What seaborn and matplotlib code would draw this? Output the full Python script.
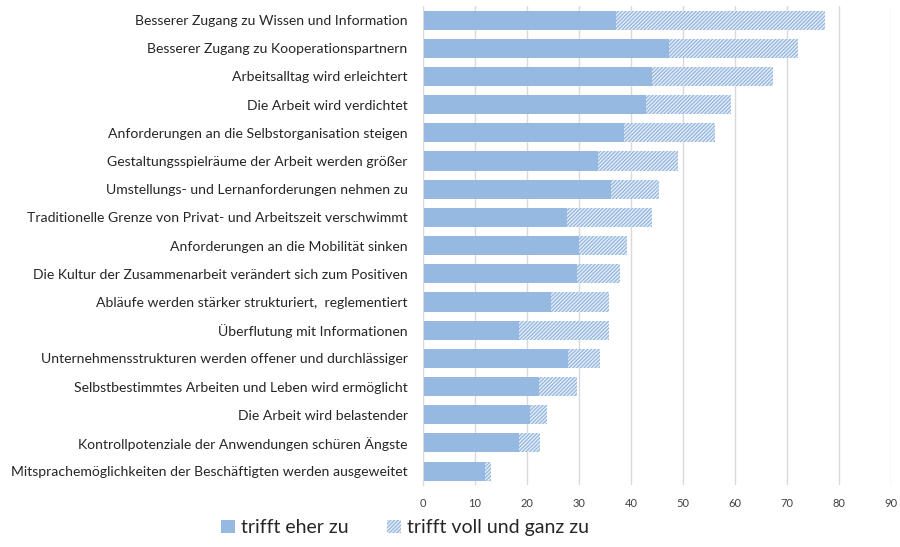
import matplotlib.pyplot as plt
import seaborn as sns
import pandas as pd
from matplotlib.patches import Patch

# Werte (Prozent)
labels = [
    "Besserer Zugang zu Wissen und Information",
    "Besserer Zugang zu Kooperationspartnern",
    "Arbeitsalltag wird erleichtert",
    "Die Arbeit wird verdichtet",
    "Anforderungen an die Selbstorganisation steigen",
    "Gestaltungsspielräume der Arbeit werden größer",
    "Umstellungs- und Lernanforderungen nehmen zu",
    "Traditionelle Grenze von Privat- und Arbeitszeit verschwimmt",
    "Anforderungen an die Mobilität sinken",
    "Die Kultur der Zusammenarbeit verändert sich zum Positiven",
    "Abläufe werden stärker strukturiert,  reglementiert",
    "Überflutung mit Informationen",
    "Unternehmensstrukturen werden offener und durchlässiger",
    "Selbstbestimmtes Arbeiten und Leben wird ermöglicht",
    "Die Arbeit wird belastender",
    "Kontrollpotenziale der Anwendungen schüren Ängste",
    "Mitsprachemöglichkeiten der Beschäftigten werden ausgeweitet",
]
eher_zu = [37.1, 47.4, 44.0, 42.9, 38.7, 33.7, 36.2, 27.6, 30.0, 29.6,
           24.6, 18.5, 27.8, 22.4, 20.6, 18.5, 11.9]
voll_zu = [40.2, 24.8, 23.4, 16.3, 17.5, 15.4, 9.2, 16.4, 9.2, 8.2,
           11.2, 17.3, 6.2, 7.2, 3.2, 4.0, 1.2]

df = pd.DataFrame({"label": labels, "eher": eher_zu, "voll": voll_zu})
df["gesamt"] = df["eher"] + df["voll"]

SOLID = "#95b9e1"
HATCH_BG = "#e2ecf7"
HATCH_LINE = "#8eb2dc"

sns.set_style("white")
plt.rcParams["font.family"] = ["Lato", "DejaVu Sans"]
plt.rcParams["hatch.linewidth"] = 0.8

fig = plt.figure(figsize=(9, 5.47), dpi=100)
ax = fig.add_axes([0.47, 0.113, 0.52, 0.876])

# Gesamtbalken (schraffiert) zuerst, dann der volle Anteil darüber
sns.barplot(data=df, x="gesamt", y="label", orient="h", color=HATCH_BG,
            width=0.68, ax=ax, saturation=1)
for p in ax.patches:
    p.set_facecolor(HATCH_BG)
    p.set_edgecolor(HATCH_LINE)
    p.set_hatch("/////////")
    p.set_linewidth(0)
n_hatched = len(ax.patches)
sns.barplot(data=df, x="eher", y="label", orient="h", color=SOLID,
            width=0.68, ax=ax, saturation=1)
for p in ax.patches[n_hatched:]:
    p.set_facecolor(SOLID)
    p.set_edgecolor(SOLID)
    p.set_linewidth(0)

ax.set_xlim(0, 90)
ax.set_xticks(range(0, 91, 10))
ax.grid(axis="x", color="#d9d9d9", linewidth=1)
ax.set_axisbelow(True)
for s in ["top", "right", "bottom"]:
    ax.spines[s].set_visible(False)
ax.spines["left"].set_color("#d9d9d9")
ax.set_xlabel("")
ax.set_ylabel("")
ax.tick_params(axis="x", labelsize=8, colors="#404040", length=0, pad=9)
ax.tick_params(axis="y", labelsize=10.1, colors="#262626", length=0, pad=11)

handles = [Patch(facecolor=SOLID, edgecolor=SOLID, linewidth=0),
           Patch(facecolor=HATCH_BG, edgecolor=HATCH_LINE, hatch="/////////", linewidth=0)]
fig.legend(handles, ["trifft eher zu", "trifft voll und ganz zu"],
           loc="center", bbox_to_anchor=(0.45, 0.035), ncol=2, frameon=False,
           fontsize=14, handlelength=0.7, handleheight=0.7, handletextpad=0.3,
           columnspacing=2.0, labelcolor="#262626")

fig.savefig("out.png", dpi=100)
